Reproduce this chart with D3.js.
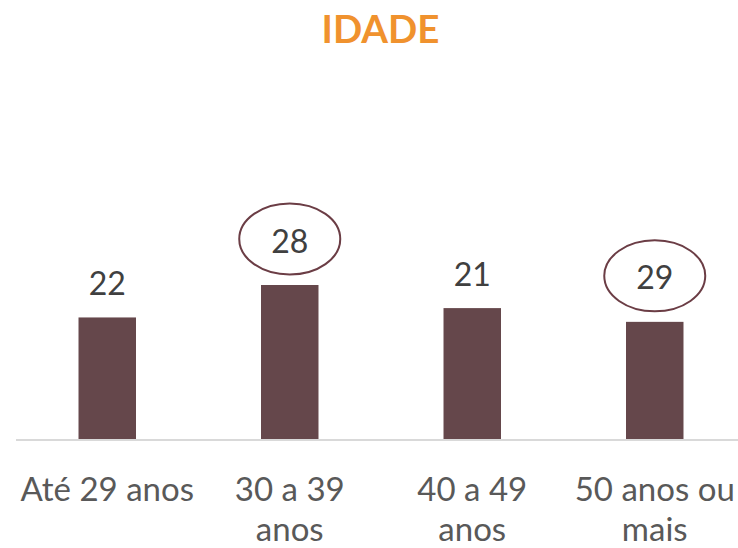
<!DOCTYPE html>
<html>
<head>
<meta charset="utf-8">
<script src="https://cdn.jsdelivr.net/npm/d3@7"></script>
<style>
  html, body { margin: 0; padding: 0; background: #fff; }
  svg { display: block; }
</style>
</head>
<body>
<svg id="chart" width="738" height="548"></svg>
<script>
const title = "IDADE";
const categories = ["Até 29 anos", "30 a 39\nanos", "40 a 49\nanos", "50 anos ou\nmais"];
const barValues = [22.1, 28, 23.8, 21.3];
const labelValues = [22, 28, 21, 29];
const highlighted = [false, true, false, true];

const W = 738, H = 548;
const FONT = "Lato, 'Open Sans', sans-serif";
const svg = d3.select("#chart");
const margin = { left: 16, right: -8, baseline: 439 };

const x = d3.scaleBand()
  .domain(categories)
  .range([margin.left, W - margin.right])
  .paddingInner(0.685)
  .paddingOuter(0.3425);

const y = d3.scaleLinear().domain([0, 40]).range([margin.baseline, 219]);

// title
svg.append("text")
  .attr("x", 380.5)
  .attr("y", 42.5)
  .attr("text-anchor", "middle")
  .attr("font-family", FONT)
  .attr("font-weight", "bold")
  .attr("font-size", 38.5)
  .attr("fill", "#F0922E")
  .text(title);

const data = categories.map((c, i) => ({ c, v: barValues[i], l: labelValues[i], h: highlighted[i] }));

// bars
svg.append("g").selectAll("rect").data(data).join("rect")
  .attr("x", d => x(d.c))
  .attr("y", d => y(d.v))
  .attr("width", x.bandwidth())
  .attr("height", d => y(0) - y(d.v))
  .attr("fill", "#65474B");

// axis line
svg.append("line")
  .attr("x1", margin.left).attr("x2", W)
  .attr("y1", 440).attr("y2", 440)
  .attr("stroke", "#D9D9D9").attr("stroke-width", 2);

// value labels
const labelY = d => y(d.v) - (d.h ? 44 : 33.5);
const lbl = svg.append("g");
lbl.selectAll("ellipse").data(data.filter(d => d.h)).join("ellipse")
  .attr("cx", d => x(d.c) + x.bandwidth() / 2)
  .attr("cy", d => labelY(d) - 2)
  .attr("rx", 50.5).attr("ry", 35.5)
  .attr("fill", "none")
  .attr("stroke", "#6B3D45")
  .attr("stroke-width", 2);
lbl.selectAll("text").data(data).join("text")
  .attr("x", d => x(d.c) + x.bandwidth() / 2)
  .attr("y", d => labelY(d))
  .attr("dy", "0.36em")
  .attr("text-anchor", "middle")
  .attr("font-family", FONT)
  .attr("font-size", 32)
  .attr("fill", "#404040")
  .text(d => d.l);

// category labels
const cat = svg.append("g").selectAll("text").data(categories).join("text")
  .attr("x", d => x(d) + x.bandwidth() / 2)
  .attr("y", 501)
  .attr("text-anchor", "middle")
  .attr("font-family", FONT)
  .attr("font-size", 33)
  .attr("fill", "#595959");
cat.each(function(d) {
  const t = d3.select(this);
  d.split("\n").forEach((line, i) => {
    t.append("tspan")
      .attr("x", x(d) + x.bandwidth() / 2)
      .attr("dy", i === 0 ? 0 : 39.6)
      .text(line);
  });
});
</script>
</body>
</html>
